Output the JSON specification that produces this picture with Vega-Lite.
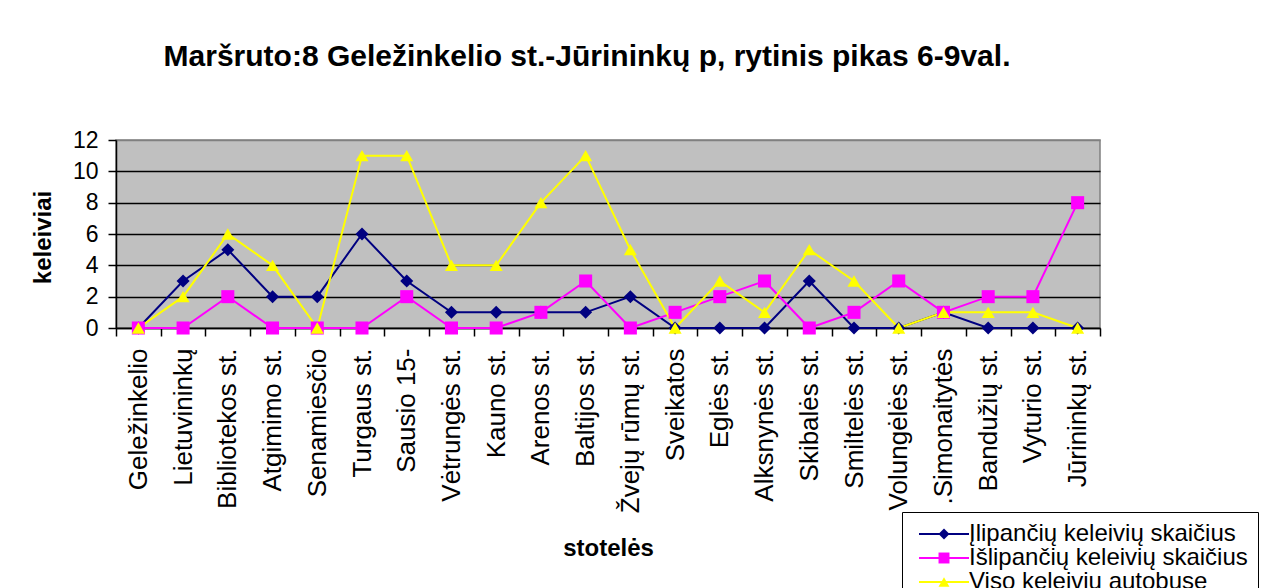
{
  "$schema": "https://vega.github.io/schema/vega-lite/v6.json",
  "width": 984,
  "height": 188,
  "autosize": "none",
  "padding": {"left": 116, "top": 140, "right": 164, "bottom": 260},
  "background": "white",
  "title": {
    "text": "Maršruto:8 Geležinkelio st.-Jūrininkų p, rytinis pikas 6-9val.",
    "font": "Arial, Liberation Sans",
    "fontSize": 30,
    "fontWeight": "bold",
    "color": "black",
    "anchor": "middle",
    "baseline": "alphabetic",
    "dx": -21,
    "offset": 33
  },
  "datasets": {
    "d": [
      {"stop": "Geležinkelio", "series": "Įlipančių keleivių skaičius", "value": 0},
      {"stop": "Lietuvininkų", "series": "Įlipančių keleivių skaičius", "value": 3},
      {"stop": "Bibliotekos st.", "series": "Įlipančių keleivių skaičius", "value": 5},
      {"stop": "Atgimimo st.", "series": "Įlipančių keleivių skaičius", "value": 2},
      {"stop": "Senamiesčio", "series": "Įlipančių keleivių skaičius", "value": 2},
      {"stop": "Turgaus st.", "series": "Įlipančių keleivių skaičius", "value": 6},
      {"stop": "Sausio 15-", "series": "Įlipančių keleivių skaičius", "value": 3},
      {"stop": "Vėtrungės st.", "series": "Įlipančių keleivių skaičius", "value": 1},
      {"stop": "Kauno st.", "series": "Įlipančių keleivių skaičius", "value": 1},
      {"stop": "Arenos st.", "series": "Įlipančių keleivių skaičius", "value": 1},
      {"stop": "Baltijos st.", "series": "Įlipančių keleivių skaičius", "value": 1},
      {"stop": "Žvejų rūmų st.", "series": "Įlipančių keleivių skaičius", "value": 2},
      {"stop": "Sveikatos", "series": "Įlipančių keleivių skaičius", "value": 0},
      {"stop": "Eglės st.", "series": "Įlipančių keleivių skaičius", "value": 0},
      {"stop": "Alksnynės st.", "series": "Įlipančių keleivių skaičius", "value": 0},
      {"stop": "Skibalės st.", "series": "Įlipančių keleivių skaičius", "value": 3},
      {"stop": "Smiltelės st.", "series": "Įlipančių keleivių skaičius", "value": 0},
      {"stop": "Volungėlės st.", "series": "Įlipančių keleivių skaičius", "value": 0},
      {"stop": ".Simonaitytės", "series": "Įlipančių keleivių skaičius", "value": 1},
      {"stop": "Bandužių st.", "series": "Įlipančių keleivių skaičius", "value": 0},
      {"stop": "Vyturio st.", "series": "Įlipančių keleivių skaičius", "value": 0},
      {"stop": "Jūrininkų st.", "series": "Įlipančių keleivių skaičius", "value": 0},
      {"stop": "Geležinkelio", "series": "Išlipančių keleivių skaičius", "value": 0},
      {"stop": "Lietuvininkų", "series": "Išlipančių keleivių skaičius", "value": 0},
      {"stop": "Bibliotekos st.", "series": "Išlipančių keleivių skaičius", "value": 2},
      {"stop": "Atgimimo st.", "series": "Išlipančių keleivių skaičius", "value": 0},
      {"stop": "Senamiesčio", "series": "Išlipančių keleivių skaičius", "value": 0},
      {"stop": "Turgaus st.", "series": "Išlipančių keleivių skaičius", "value": 0},
      {"stop": "Sausio 15-", "series": "Išlipančių keleivių skaičius", "value": 2},
      {"stop": "Vėtrungės st.", "series": "Išlipančių keleivių skaičius", "value": 0},
      {"stop": "Kauno st.", "series": "Išlipančių keleivių skaičius", "value": 0},
      {"stop": "Arenos st.", "series": "Išlipančių keleivių skaičius", "value": 1},
      {"stop": "Baltijos st.", "series": "Išlipančių keleivių skaičius", "value": 3},
      {"stop": "Žvejų rūmų st.", "series": "Išlipančių keleivių skaičius", "value": 0},
      {"stop": "Sveikatos", "series": "Išlipančių keleivių skaičius", "value": 1},
      {"stop": "Eglės st.", "series": "Išlipančių keleivių skaičius", "value": 2},
      {"stop": "Alksnynės st.", "series": "Išlipančių keleivių skaičius", "value": 3},
      {"stop": "Skibalės st.", "series": "Išlipančių keleivių skaičius", "value": 0},
      {"stop": "Smiltelės st.", "series": "Išlipančių keleivių skaičius", "value": 1},
      {"stop": "Volungėlės st.", "series": "Išlipančių keleivių skaičius", "value": 3},
      {"stop": ".Simonaitytės", "series": "Išlipančių keleivių skaičius", "value": 1},
      {"stop": "Bandužių st.", "series": "Išlipančių keleivių skaičius", "value": 2},
      {"stop": "Vyturio st.", "series": "Išlipančių keleivių skaičius", "value": 2},
      {"stop": "Jūrininkų st.", "series": "Išlipančių keleivių skaičius", "value": 8},
      {"stop": "Geležinkelio", "series": "Viso keleivių autobuse", "value": 0},
      {"stop": "Lietuvininkų", "series": "Viso keleivių autobuse", "value": 2},
      {"stop": "Bibliotekos st.", "series": "Viso keleivių autobuse", "value": 6},
      {"stop": "Atgimimo st.", "series": "Viso keleivių autobuse", "value": 4},
      {"stop": "Senamiesčio", "series": "Viso keleivių autobuse", "value": 0},
      {"stop": "Turgaus st.", "series": "Viso keleivių autobuse", "value": 11},
      {"stop": "Sausio 15-", "series": "Viso keleivių autobuse", "value": 11},
      {"stop": "Vėtrungės st.", "series": "Viso keleivių autobuse", "value": 4},
      {"stop": "Kauno st.", "series": "Viso keleivių autobuse", "value": 4},
      {"stop": "Arenos st.", "series": "Viso keleivių autobuse", "value": 8},
      {"stop": "Baltijos st.", "series": "Viso keleivių autobuse", "value": 11},
      {"stop": "Žvejų rūmų st.", "series": "Viso keleivių autobuse", "value": 5},
      {"stop": "Sveikatos", "series": "Viso keleivių autobuse", "value": 0},
      {"stop": "Eglės st.", "series": "Viso keleivių autobuse", "value": 3},
      {"stop": "Alksnynės st.", "series": "Viso keleivių autobuse", "value": 1},
      {"stop": "Skibalės st.", "series": "Viso keleivių autobuse", "value": 5},
      {"stop": "Smiltelės st.", "series": "Viso keleivių autobuse", "value": 3},
      {"stop": "Volungėlės st.", "series": "Viso keleivių autobuse", "value": 0},
      {"stop": ".Simonaitytės", "series": "Viso keleivių autobuse", "value": 1},
      {"stop": "Bandužių st.", "series": "Viso keleivių autobuse", "value": 1},
      {"stop": "Vyturio st.", "series": "Viso keleivių autobuse", "value": 1},
      {"stop": "Jūrininkų st.", "series": "Viso keleivių autobuse", "value": 0}
    ]
  },
  "data": {"name": "d"},
  "encoding": {
    "x": {
      "field": "stop",
      "type": "nominal",
      "sort": null,
      "bandPosition": 0.5,
      "scale": {"type": "band", "paddingInner": 0, "paddingOuter": 0},
      "axis": {
        "title": "stotelės",
        "titleFont": "Arial, Liberation Sans",
        "titleFontSize": 24,
        "titleFontWeight": "bold",
        "titleColor": "black",
        "titleY": 227,
        "titleBaseline": "alphabetic",
        "labelAngle": 270,
        "labelFont": "Arial, Liberation Sans",
        "labelFontSize": 26,
        "labelColor": "black",
        "labelPadding": 12,
        "labelAlign": "right",
        "labelBaseline": "middle",
        "labelOverlap": false,
        "labelLimit": 0,
        "tickBand": "extent",
        "tickColor": "black",
        "tickSize": 8,
        "tickWidth": 1.5,
        "domainColor": "black",
        "domainWidth": 1.5,
        "grid": false
      }
    },
    "y": {
      "field": "value",
      "type": "quantitative",
      "scale": {"domain": [0, 12], "nice": false},
      "axis": {
        "values": [0, 2, 4, 6, 8, 10, 12],
        "title": "keleiviai",
        "titleFont": "Arial, Liberation Sans",
        "titleFontSize": 24,
        "titleFontWeight": "bold",
        "titleColor": "black",
        "titleAngle": 270,
        "titleX": -66,
        "titleY": 97,
        "titleAlign": "center",
        "titleBaseline": "alphabetic",
        "labelFont": "Arial, Liberation Sans",
        "labelFontSize": 23,
        "labelColor": "black",
        "labelPadding": 10,
        "tickColor": "black",
        "tickSize": 8,
        "tickWidth": 1.5,
        "domainColor": "black",
        "domainWidth": 1.5,
        "grid": true,
        "gridColor": {"condition": {"test": "datum.value === 12", "value": "#808080"}, "value": "black"},
        "gridWidth": 1.5
      }
    }
  },
  "layer": [
    {
      "mark": {"type": "line", "strokeWidth": 2},
      "encoding": {
        "color": {
          "field": "series",
          "type": "nominal",
          "sort": ["Įlipančių keleivių skaičius", "Išlipančių keleivių skaičius", "Viso keleivių autobuse"],
          "scale": {"range": ["#000080", "#FF00FF", "#FFFF00"]},
          "legend": {
            "title": null,
            "orient": "none",
            "legendX": 786,
            "legendY": 372,
            "direction": "vertical",
            "fillColor": "white",
            "strokeColor": "black",
            "padding": 10,
            "labelFont": "Arial, Liberation Sans",
            "labelFontSize": 24,
            "labelColor": "black",
            "labelLimit": 0,
            "labelOffset": 33,
            "rowPadding": 0,
            "symbolType": "M-1,0H9",
            "symbolSize": 100,
            "symbolStrokeWidth": 2
          }
        }
      }
    },
    {
      "mark": {"type": "point", "filled": true, "size": 170, "opacity": 1},
      "encoding": {
        "fill": {
          "field": "series",
          "type": "nominal",
          "scale": {
            "domain": ["Įlipančių keleivių skaičius", "Išlipančių keleivių skaičius", "Viso keleivių autobuse"],
            "range": ["#000080", "#FF00FF", "#FFFF00"]
          },
          "legend": {
            "title": null,
            "orient": "none",
            "legendX": 806,
            "legendY": 372,
            "direction": "vertical",
            "padding": 10,
            "labelFontSize": 24,
            "labelExpr": "''",
            "labelLimit": 0,
            "rowPadding": 0,
            "symbolSize": 120,
            "symbolStrokeWidth": 0
          }
        },
        "shape": {
          "field": "series",
          "type": "nominal",
          "scale": {
            "domain": ["Įlipančių keleivių skaičius", "Išlipančių keleivių skaičius", "Viso keleivių autobuse"],
            "range": ["diamond", "square", "triangle-up"]
          },
          "legend": {
            "title": null,
            "orient": "none",
            "legendX": 806,
            "legendY": 372,
            "direction": "vertical",
            "padding": 10,
            "labelFontSize": 24,
            "labelExpr": "''",
            "labelLimit": 0,
            "rowPadding": 0,
            "symbolSize": 120,
            "symbolStrokeWidth": 0
          }
        }
      }
    }
  ],
  "config": {
    "view": {"fill": "#C0C0C0", "stroke": "#808080", "strokeWidth": 1.5}
  }
}
